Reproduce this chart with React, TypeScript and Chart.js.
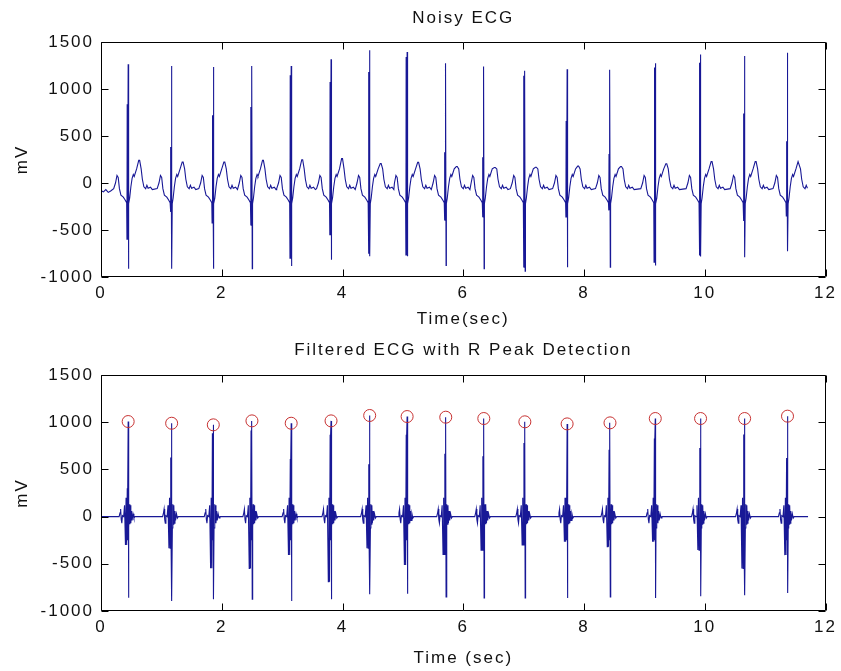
import React, { useEffect, useRef } from 'react';
import { Chart, registerables } from 'chart.js';

Chart.register(...registerables);

// ---- data ----
const rTimes = [0.45, 1.17, 1.86, 2.50, 3.15, 3.81, 4.45, 5.07, 5.71, 6.34, 7.02, 7.72, 8.43, 9.18, 9.93, 10.66, 11.37];

// Noisy ECG beat values (mV)
const noisyR = [1262, 1245, 1234, 1245, 1245, 1316, 1411, 1394, 1274, 1239, 1193, 1210, 1204, 1274, 1368, 1351, 1386];
const noisyS = [-911, -911, -911, -911, -883, -816, -780, -780, -877, -912, -937, -895, -895, -877, -782, -789, -726];
const noisyR2 = [837, 383, 720, 808, 1145, 1074, 1180, 1340, 326, 274, 1140, 660, 309, 1228, 1280, 740, 445];
const noisyS2 = [-603, -309, -425, -450, -805, -557, -752, -770, -396, -361, -895, -368, -291, -842, -772, -404, -351];
const noisyT = [241, 223, 223, 241, 248, 259, 206, 220, 175, 165, 168, 180, 175, 204, 228, 228, 228];

// Filtered ECG beat values (mV) — R peaks are the detected (circled) peaks
const filtR = [1007, 989, 972, 1014, 989, 1014, 1071, 1060, 1053, 1039, 1004, 982, 993, 1039, 1039, 1039, 1064];
const filtS = [-859, -894, -876, -876, -894, -876, -823, -816, -851, -862, -862, -862, -851, -862, -844, -833, -809];
const filtR2 = [300, 625, 883, 912, 611, 866, 555, 866, 667, 638, 780, 200, 709, 826, 727, 869, 620];
const filtS2 = [-300, -336, -548, -548, -406, -689, -336, -512, -401, -355, -301, -266, -319, -266, -355, -550, -408];

// Beat shapes: [time offset from R (s), value or per-beat key]
type Pt = [number, number | string];
const noisyLead: [number, number][] = [[0, -80], [0.04, -95], [0.08, -70], [0.12, -100], [0.16, -85]];
const noisyShape: Pt[] = [
  [-0.24, -60], [-0.21, 0], [-0.185, 80], [-0.165, 60], [-0.145, -60], [-0.12, -130], [-0.08, -150],
  [-0.05, -180], [-0.025, -210], [-0.02, 'S2'], [-0.016, 'R2'], [-0.012, 'S2'], [-0.008, 'R2'],
  [-0.004, -150], [0, 'R'], [0.005, 'S'], [0.01, -220], [0.025, -160], [0.045, -40], [0.065, 50],
  [0.085, 90], [0.1, 70], [0.14, 150], [0.175, 'T'], [0.19, 'T'], [0.215, 150], [0.235, 40],
  [0.26, -40], [0.29, -60], [0.31, -25], [0.33, -55], [0.37, -45], [0.40, -70],
];
const noisyTrail: [number, number][] = [[11.70, -40]];

const filtLead: [number, number][] = [[0, 0]];
const filtShape: Pt[] = [
  [-0.20, 0], [-0.15, 0], [-0.135, 40], [-0.125, 80], [-0.115, -30], [-0.105, -70], [-0.095, 10],
  [-0.075, 0], [-0.06, 120], [-0.045, 'S2'], [-0.035, 200], [-0.025, 'S2'], [-0.015, 'R2'],
  [-0.010, -250], [-0.005, 'R2'], [0, 'R'], [0.005, 'S'], [0.012, -120], [0.02, 130], [0.028, -80],
  [0.036, 120], [0.044, -70], [0.055, 60], [0.065, -40], [0.08, 30], [0.095, -15], [0.11, 0],
];
const filtTrail: [number, number][] = [[11.71, 0]];

const xTicks = [0, 2, 4, 6, 8, 10, 12];
const yTicks = [-1000, -500, 0, 500, 1000, 1500];

// ---- build the series ----
function buildSeries(lead: [number, number][], shape: Pt[], trail: [number, number][], params: Record<string, number[]>, tEnd: number) {
  const pts: { x: number; y: number }[] = lead.map(([x, y]) => ({ x, y }));
  let last = pts[pts.length - 1].x;
  rTimes.forEach((t, i) => {
    shape.forEach(([dt, v]) => {
      const x = Math.round((t + dt) * 10000) / 10000;
      if (x <= last || x > tEnd) return;
      const y = typeof v === 'number' ? v : params[v][i];
      pts.push({ x, y });
      last = x;
    });
  });
  trail.forEach(([x, y]) => { if (x > last) { pts.push({ x, y }); last = x; } });
  return pts;
}

const noisySeries = buildSeries(noisyLead, noisyShape, noisyTrail, { R: noisyR, S: noisyS, R2: noisyR2, S2: noisyS2, T: noisyT }, 11.70);
const filtSeries = buildSeries(filtLead, filtShape, filtTrail, { R: filtR, S: filtS, R2: filtR2, S2: filtS2 }, 11.71);
const peakPoints = rTimes.map((t, i) => ({ x: t, y: filtR[i] }));

const TEXT = '#111';
const FONT = { family: '"Liberation Sans", Arial, Helvetica, sans-serif', size: 17, weight: 'normal' as const };
const LINE = 'rgb(24,24,150)';

const framePlugin = {
  id: 'matlabFrame',
  beforeDraw(chart: any) {
    const ctx = chart.ctx;
    ctx.save();
    ctx.fillStyle = '#fff';
    ctx.fillRect(0, 0, chart.width, chart.height);
    ctx.restore();
    ctx.letterSpacing = '2px';
  },
  afterDraw(chart: any) {
    const { ctx, chartArea: a, scales } = chart;
    const L = Math.round(a.left) + 0.5, R = Math.round(a.right) - 0.5;
    const T = Math.round(a.top) + 0.5, B = Math.round(a.bottom) - 0.5;
    const len = 7;
    ctx.save();
    ctx.strokeStyle = '#000';
    ctx.lineWidth = 1;
    ctx.beginPath();
    ctx.rect(L, T, R - L, B - T);
    scales.x.ticks.forEach((tk: any) => {
      const px = Math.round(scales.x.getPixelForValue(tk.value)) + 0.5;
      ctx.moveTo(px, B); ctx.lineTo(px, B - len);
      ctx.moveTo(px, T); ctx.lineTo(px, T + len);
    });
    scales.y.ticks.forEach((tk: any) => {
      const py = Math.round(scales.y.getPixelForValue(tk.value)) + 0.5;
      ctx.moveTo(L, py); ctx.lineTo(L + len, py);
      ctx.moveTo(R, py); ctx.lineTo(R - len, py);
    });
    ctx.stroke();
    ctx.restore();
  },
};

function makeConfig(p: {
  title: string; xTitle: string; padTop: number; titlePadBottom: number; xHeight: number; xTitlePadBottom: number; datasets: any[];
}): any {
  return {
    type: 'line',
    data: { datasets: p.datasets },
    plugins: [framePlugin],
    options: {
      responsive: false,
      animation: false,
      devicePixelRatio: 1,
      layout: { padding: { top: p.padTop, left: 0, right: 12, bottom: 0 } },
      plugins: {
        legend: { display: false },
        tooltip: { enabled: false },
        title: {
          display: true, text: p.title, fullSize: false, color: TEXT, font: FONT,
          padding: { top: 0, bottom: p.titlePadBottom },
        },
      },
      scales: {
        x: {
          type: 'linear', min: 0, max: 12,
          grid: { display: false, drawTicks: false },
          border: { display: false },
          afterBuildTicks: (s: any) => { s.ticks = xTicks.map((v) => ({ value: v })); },
          afterFit: (s: any) => { s.height = p.xHeight; },
          ticks: { color: TEXT, font: FONT, padding: 6, maxRotation: 0, autoSkip: false, callback: (v: any) => String(v) },
          title: { display: true, text: p.xTitle, color: TEXT, font: FONT, padding: { top: 0, bottom: p.xTitlePadBottom } },
        },
        y: {
          type: 'linear', min: -1000, max: 1500,
          grid: { display: false, drawTicks: false },
          border: { display: false },
          afterBuildTicks: (s: any) => { s.ticks = yTicks.map((v) => ({ value: v })); },
          afterFit: (s: any) => { s.width = 101; },
          ticks: { color: TEXT, font: FONT, padding: 7, autoSkip: false, callback: (v: any) => String(v) },
          title: { display: true, text: 'mV', color: TEXT, font: FONT, padding: { top: 12, bottom: 0 } },
        },
      },
    },
  };
}

export default function App() {
  const topRef = useRef<HTMLCanvasElement>(null);
  const botRef = useRef<HTMLCanvasElement>(null);

  useEffect(() => {
    const lineDs = (data: any[]) => ({
      data, borderColor: LINE, borderWidth: 1.1, pointRadius: 0, tension: 0, fill: false,
    });
    const c1 = new Chart(topRef.current as HTMLCanvasElement, makeConfig({
      title: 'Noisy ECG', xTitle: 'Time(sec)', padTop: 8, titlePadBottom: 13.6, xHeight: 58, xTitlePadBottom: 5,
      datasets: [lineDs(noisySeries)],
    }));
    const c2 = new Chart(botRef.current as HTMLCanvasElement, makeConfig({
      title: 'Filtered ECG with R Peak Detection', xTitle: 'Time (sec)', padTop: 5, titlePadBottom: 14.6, xHeight: 60, xTitlePadBottom: 2.8,
      datasets: [
        {
          data: peakPoints, showLine: false, pointRadius: 6, pointHoverRadius: 6, pointStyle: 'circle',
          pointBorderColor: 'rgb(200,50,50)', pointBackgroundColor: 'rgba(0,0,0,0)', pointBorderWidth: 1,
        },
        lineDs(filtSeries),
      ],
    }));
    return () => { c1.destroy(); c2.destroy(); };
  }, []);

  return (
    <div style={{ position: 'absolute', left: 0, top: 0, width: 841, height: 671, background: '#fff' }}>
      <canvas ref={topRef} width={841} height={335} style={{ display: 'block', width: 841, height: 335 }} />
      <canvas ref={botRef} width={841} height={336} style={{ display: 'block', width: 841, height: 336 }} />
    </div>
  );
}
